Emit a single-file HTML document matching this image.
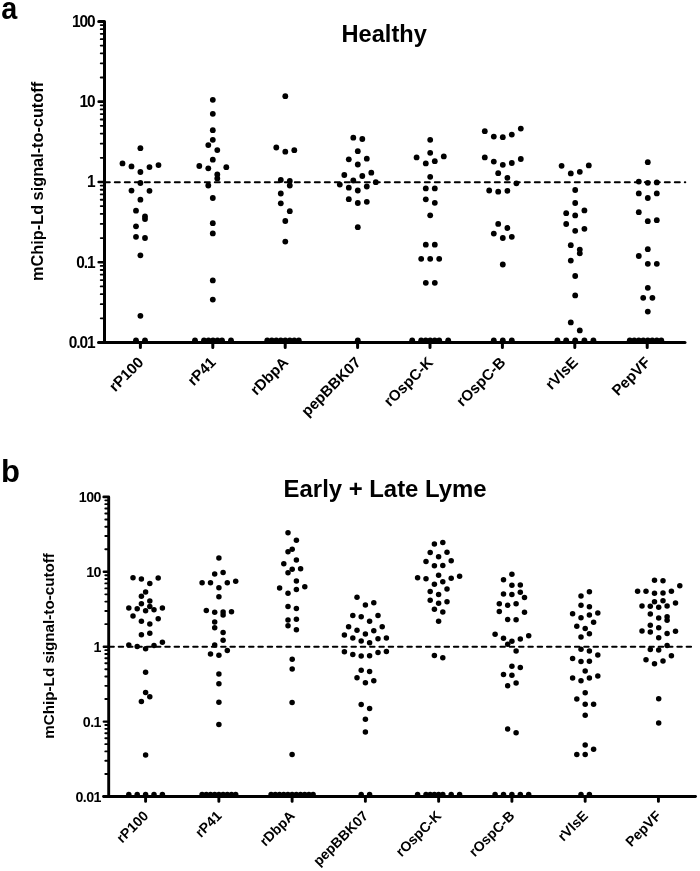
<!DOCTYPE html>
<html><head><meta charset="utf-8"><style>
html,body{margin:0;padding:0;background:#fff;}
svg{display:block;}
text{font-family:'Liberation Sans',Arial,sans-serif;font-weight:bold;fill:#000;}
</style></head><body>
<svg width="700" height="871" viewBox="0 0 700 871">
<rect width="700" height="871" fill="#fff"/>
<path d="M100.7 318.33H104.5M100.7 304.2H104.5M100.7 294.17H104.5M100.7 286.39H104.5M100.7 280.03H104.5M100.7 274.66H104.5M100.7 270H104.5M100.7 265.9H104.5M100.7 238.06H104.5M100.7 223.92H104.5M100.7 213.89H104.5M100.7 206.12H104.5M100.7 199.76H104.5M100.7 194.38H104.5M100.7 189.73H104.5M100.7 185.62H104.5M100.7 157.78H104.5M100.7 143.65H104.5M100.7 133.62H104.5M100.7 125.84H104.5M100.7 119.48H104.5M100.7 114.11H104.5M100.7 109.45H104.5M100.7 105.35H104.5M100.7 77.51H104.5M100.7 63.37H104.5M100.7 53.34H104.5M100.7 45.57H104.5M100.7 39.21H104.5M100.7 33.83H104.5M100.7 29.18H104.5M100.7 25.07H104.5" stroke="#000" stroke-width="1.8" stroke-linecap="round" fill="none"/>
<path d="M98.7 342.5H104.5M98.7 262.23H104.5M98.7 181.95H104.5M98.7 101.67H104.5" stroke="#000" stroke-width="2.6" stroke-linecap="round" fill="none"/>
<path d="M98.7 21.4H104.5V342.5" stroke="#000" stroke-width="3" stroke-linecap="round" stroke-linejoin="round" fill="none"/>
<path d="M98.6 342.5H685" stroke="#000" stroke-width="3" stroke-linecap="round" fill="none"/>
<text transform="translate(94.6 347.85) scale(0.95 1)" text-anchor="end" font-size="16.3" letter-spacing="-1.1">0.01</text>
<text transform="translate(94.6 267.58) scale(0.95 1)" text-anchor="end" font-size="16.3" letter-spacing="-1.1">0.1</text>
<text transform="translate(94.6 187.3) scale(0.95 1)" text-anchor="end" font-size="16.3" letter-spacing="-1.1">1</text>
<text transform="translate(94.6 107.02) scale(0.95 1)" text-anchor="end" font-size="16.3" letter-spacing="-1.1">10</text>
<text transform="translate(94.6 26.75) scale(0.95 1)" text-anchor="end" font-size="16.3" letter-spacing="-1.1">100</text>
<text x="144.4" y="363.3" text-anchor="end" font-size="15.1" transform="rotate(-45 144.4 363.3)">rP100</text>
<text x="216.8" y="363.3" text-anchor="end" font-size="15.1" transform="rotate(-45 216.8 363.3)">rP41</text>
<text x="289.2" y="363.3" text-anchor="end" font-size="15.1" transform="rotate(-45 289.2 363.3)">rDbpA</text>
<text x="361.6" y="363.3" text-anchor="end" font-size="15.1" transform="rotate(-45 361.6 363.3)">pepBBK07</text>
<text x="434" y="363.3" text-anchor="end" font-size="15.1" transform="rotate(-45 434 363.3)">rOspC-K</text>
<text x="506.4" y="363.3" text-anchor="end" font-size="15.1" transform="rotate(-45 506.4 363.3)">rOspC-B</text>
<text x="578.8" y="363.3" text-anchor="end" font-size="15.1" transform="rotate(-45 578.8 363.3)">rVlsE</text>
<text x="651.2" y="363.3" text-anchor="end" font-size="15.1" transform="rotate(-45 651.2 363.3)">PepVF</text>
<path d="M140.4 342.5V347.6M212.8 342.5V347.6M285.2 342.5V347.6M357.6 342.5V347.6M430 342.5V347.6M502.4 342.5V347.6M574.8 342.5V347.6M647.2 342.5V347.6" stroke="#000" stroke-width="3" stroke-linecap="round" fill="none"/>
<path d="M104.9 182.25H685.2" stroke="#000" stroke-width="2.2" stroke-dasharray="4.8 5.2" stroke-linecap="round" fill="none"/>
<text x="43.1" y="181.4" text-anchor="middle" font-size="16.3" transform="rotate(-90 43.1 181.4)">mChip-Ld signal-to-cutoff</text>
<text x="384.2" y="41.6" text-anchor="middle" font-size="23.6">Healthy</text>
<text transform="translate(1.2 19) scale(0.9 1)" font-size="32">a</text>
<g>
<circle cx="140.4" cy="148.2" r="2.9"/>
<circle cx="122.5" cy="163.4" r="2.9"/>
<circle cx="131.5" cy="166.4" r="2.9"/>
<circle cx="149.5" cy="167.1" r="2.9"/>
<circle cx="158.5" cy="165.1" r="2.9"/>
<circle cx="140.4" cy="172" r="2.9"/>
<circle cx="140.4" cy="183" r="2.9"/>
<circle cx="131.5" cy="190.6" r="2.9"/>
<circle cx="149.5" cy="190.8" r="2.9"/>
<circle cx="140.4" cy="199.7" r="2.9"/>
<circle cx="136" cy="210.7" r="2.9"/>
<circle cx="145" cy="216.5" r="2.9"/>
<circle cx="145" cy="219.1" r="2.9"/>
<circle cx="136" cy="226.3" r="2.9"/>
<circle cx="136" cy="236.8" r="2.9"/>
<circle cx="145" cy="238" r="2.9"/>
<circle cx="140.4" cy="255.3" r="2.9"/>
<circle cx="140.4" cy="315.8" r="2.9"/>
<circle cx="136" cy="340.3" r="2.9"/>
<circle cx="145" cy="340.3" r="2.9"/>
<circle cx="212.8" cy="99.8" r="2.9"/>
<circle cx="212.8" cy="113.8" r="2.9"/>
<circle cx="212.8" cy="130.2" r="2.9"/>
<circle cx="212.8" cy="139.8" r="2.9"/>
<circle cx="208.3" cy="145.1" r="2.9"/>
<circle cx="217.3" cy="150.1" r="2.9"/>
<circle cx="212.8" cy="159.7" r="2.9"/>
<circle cx="199.3" cy="166" r="2.9"/>
<circle cx="208.3" cy="168.3" r="2.9"/>
<circle cx="226.3" cy="167.2" r="2.9"/>
<circle cx="217.3" cy="174.5" r="2.9"/>
<circle cx="217.3" cy="178.4" r="2.9"/>
<circle cx="208.3" cy="185.5" r="2.9"/>
<circle cx="212.8" cy="198" r="2.9"/>
<circle cx="212.8" cy="223.2" r="2.9"/>
<circle cx="212.8" cy="233.4" r="2.9"/>
<circle cx="212.8" cy="280.4" r="2.9"/>
<circle cx="212.8" cy="299.6" r="2.9"/>
<circle cx="195" cy="340.3" r="2.9"/>
<circle cx="204" cy="340.3" r="2.9"/>
<circle cx="208.5" cy="340.3" r="2.9"/>
<circle cx="213" cy="340.3" r="2.9"/>
<circle cx="217.5" cy="340.3" r="2.9"/>
<circle cx="222" cy="340.3" r="2.9"/>
<circle cx="231" cy="340.3" r="2.9"/>
<circle cx="285.3" cy="96.2" r="2.9"/>
<circle cx="276.3" cy="147.5" r="2.9"/>
<circle cx="285.3" cy="151.7" r="2.9"/>
<circle cx="294.3" cy="150.2" r="2.9"/>
<circle cx="280.8" cy="180" r="2.9"/>
<circle cx="289.8" cy="181" r="2.9"/>
<circle cx="289.8" cy="185.5" r="2.9"/>
<circle cx="280.8" cy="193.5" r="2.9"/>
<circle cx="280.8" cy="203.3" r="2.9"/>
<circle cx="289.8" cy="211.2" r="2.9"/>
<circle cx="285.3" cy="221" r="2.9"/>
<circle cx="285.3" cy="241.6" r="2.9"/>
<circle cx="267.3" cy="340.3" r="2.9"/>
<circle cx="271.8" cy="340.3" r="2.9"/>
<circle cx="276.3" cy="340.3" r="2.9"/>
<circle cx="280.8" cy="340.3" r="2.9"/>
<circle cx="285.3" cy="340.3" r="2.9"/>
<circle cx="289.8" cy="340.3" r="2.9"/>
<circle cx="294.3" cy="340.3" r="2.9"/>
<circle cx="298.8" cy="340.3" r="2.9"/>
<circle cx="353.3" cy="137.7" r="2.9"/>
<circle cx="362.3" cy="139" r="2.9"/>
<circle cx="357.8" cy="151.2" r="2.9"/>
<circle cx="348.8" cy="159.3" r="2.9"/>
<circle cx="366.8" cy="158.7" r="2.9"/>
<circle cx="357.8" cy="164.5" r="2.9"/>
<circle cx="344.3" cy="175" r="2.9"/>
<circle cx="362.3" cy="176" r="2.9"/>
<circle cx="371.3" cy="172.7" r="2.9"/>
<circle cx="353.3" cy="180.5" r="2.9"/>
<circle cx="339.8" cy="184.6" r="2.9"/>
<circle cx="375.8" cy="182.2" r="2.9"/>
<circle cx="348.8" cy="187.7" r="2.9"/>
<circle cx="366.8" cy="186.5" r="2.9"/>
<circle cx="357.8" cy="190.5" r="2.9"/>
<circle cx="348.8" cy="199.2" r="2.9"/>
<circle cx="357.8" cy="203" r="2.9"/>
<circle cx="366.8" cy="201.8" r="2.9"/>
<circle cx="357.8" cy="227.2" r="2.9"/>
<circle cx="357.8" cy="340.3" r="2.9"/>
<circle cx="430.2" cy="139.8" r="2.9"/>
<circle cx="430.2" cy="152.8" r="2.9"/>
<circle cx="416.6" cy="157.4" r="2.9"/>
<circle cx="443.8" cy="156.4" r="2.9"/>
<circle cx="425.8" cy="163.4" r="2.9"/>
<circle cx="434.8" cy="161.2" r="2.9"/>
<circle cx="430.2" cy="176.8" r="2.9"/>
<circle cx="425.8" cy="188.4" r="2.9"/>
<circle cx="434.8" cy="188.4" r="2.9"/>
<circle cx="425.8" cy="199.3" r="2.9"/>
<circle cx="434.8" cy="202.8" r="2.9"/>
<circle cx="430.2" cy="215.3" r="2.9"/>
<circle cx="425.8" cy="244.7" r="2.9"/>
<circle cx="434.8" cy="244.7" r="2.9"/>
<circle cx="421.2" cy="258.8" r="2.9"/>
<circle cx="430.2" cy="258.8" r="2.9"/>
<circle cx="439.2" cy="258.8" r="2.9"/>
<circle cx="425.8" cy="282.8" r="2.9"/>
<circle cx="434.8" cy="282.8" r="2.9"/>
<circle cx="412.2" cy="340.3" r="2.9"/>
<circle cx="421.2" cy="340.3" r="2.9"/>
<circle cx="425.7" cy="340.3" r="2.9"/>
<circle cx="430.2" cy="340.3" r="2.9"/>
<circle cx="434.7" cy="340.3" r="2.9"/>
<circle cx="439.2" cy="340.3" r="2.9"/>
<circle cx="448.2" cy="340.3" r="2.9"/>
<circle cx="484.8" cy="131.2" r="2.9"/>
<circle cx="493.8" cy="136.6" r="2.9"/>
<circle cx="502.8" cy="137.2" r="2.9"/>
<circle cx="511.8" cy="134.6" r="2.9"/>
<circle cx="520.8" cy="128.6" r="2.9"/>
<circle cx="484.8" cy="157.4" r="2.9"/>
<circle cx="493.8" cy="161.6" r="2.9"/>
<circle cx="502.8" cy="164.8" r="2.9"/>
<circle cx="511.8" cy="163" r="2.9"/>
<circle cx="520.8" cy="159" r="2.9"/>
<circle cx="498.2" cy="173.2" r="2.9"/>
<circle cx="507.4" cy="177.8" r="2.9"/>
<circle cx="516.4" cy="183.3" r="2.9"/>
<circle cx="489.2" cy="190.5" r="2.9"/>
<circle cx="498.2" cy="191.7" r="2.9"/>
<circle cx="507.4" cy="190.8" r="2.9"/>
<circle cx="498.2" cy="223.9" r="2.9"/>
<circle cx="507.4" cy="228" r="2.9"/>
<circle cx="493.8" cy="233.6" r="2.9"/>
<circle cx="502.8" cy="238" r="2.9"/>
<circle cx="511.8" cy="236.8" r="2.9"/>
<circle cx="502.8" cy="264.5" r="2.9"/>
<circle cx="493.8" cy="340.3" r="2.9"/>
<circle cx="502.8" cy="340.3" r="2.9"/>
<circle cx="511.8" cy="340.3" r="2.9"/>
<circle cx="561.6" cy="165.8" r="2.9"/>
<circle cx="570.8" cy="173.4" r="2.9"/>
<circle cx="579.8" cy="171.8" r="2.9"/>
<circle cx="588.8" cy="165.4" r="2.9"/>
<circle cx="575.2" cy="190" r="2.9"/>
<circle cx="575.2" cy="203" r="2.9"/>
<circle cx="566.2" cy="213.2" r="2.9"/>
<circle cx="575.2" cy="215.4" r="2.9"/>
<circle cx="584.4" cy="210.4" r="2.9"/>
<circle cx="566.2" cy="224" r="2.9"/>
<circle cx="575.2" cy="230.8" r="2.9"/>
<circle cx="584.4" cy="228.8" r="2.9"/>
<circle cx="570.8" cy="245.2" r="2.9"/>
<circle cx="579.8" cy="249.6" r="2.9"/>
<circle cx="579.8" cy="253.4" r="2.9"/>
<circle cx="570.8" cy="260.6" r="2.9"/>
<circle cx="575.2" cy="276" r="2.9"/>
<circle cx="575.2" cy="295.4" r="2.9"/>
<circle cx="570.8" cy="322.4" r="2.9"/>
<circle cx="579.8" cy="330.4" r="2.9"/>
<circle cx="557.4" cy="340.3" r="2.9"/>
<circle cx="566.2" cy="340.3" r="2.9"/>
<circle cx="575.2" cy="340.3" r="2.9"/>
<circle cx="584.4" cy="340.3" r="2.9"/>
<circle cx="593.4" cy="340.3" r="2.9"/>
<circle cx="647.8" cy="162.2" r="2.9"/>
<circle cx="638.8" cy="181.6" r="2.9"/>
<circle cx="647.8" cy="182.8" r="2.9"/>
<circle cx="656.8" cy="182.4" r="2.9"/>
<circle cx="638.8" cy="193.4" r="2.9"/>
<circle cx="647.8" cy="198" r="2.9"/>
<circle cx="656.8" cy="193.4" r="2.9"/>
<circle cx="638.8" cy="212.2" r="2.9"/>
<circle cx="647.8" cy="221.2" r="2.9"/>
<circle cx="656.8" cy="220.2" r="2.9"/>
<circle cx="647.8" cy="249.2" r="2.9"/>
<circle cx="638.8" cy="256" r="2.9"/>
<circle cx="647.8" cy="263.8" r="2.9"/>
<circle cx="656.8" cy="263.8" r="2.9"/>
<circle cx="647.8" cy="287.8" r="2.9"/>
<circle cx="643.2" cy="297.8" r="2.9"/>
<circle cx="652.4" cy="297.8" r="2.9"/>
<circle cx="647.8" cy="311.6" r="2.9"/>
<circle cx="629.8" cy="340.3" r="2.9"/>
<circle cx="634.3" cy="340.3" r="2.9"/>
<circle cx="638.8" cy="340.3" r="2.9"/>
<circle cx="643.3" cy="340.3" r="2.9"/>
<circle cx="647.8" cy="340.3" r="2.9"/>
<circle cx="652.3" cy="340.3" r="2.9"/>
<circle cx="656.8" cy="340.3" r="2.9"/>
<circle cx="661.3" cy="340.3" r="2.9"/>
</g>
<path d="M105.3 773.95H108.7M105.3 760.76H108.7M105.3 751.41H108.7M105.3 744.15H108.7M105.3 738.22H108.7M105.3 733.2H108.7M105.3 728.86H108.7M105.3 725.03H108.7M105.3 699.05H108.7M105.3 685.86H108.7M105.3 676.51H108.7M105.3 669.25H108.7M105.3 663.32H108.7M105.3 658.3H108.7M105.3 653.96H108.7M105.3 650.13H108.7M105.3 624.15H108.7M105.3 610.96H108.7M105.3 601.61H108.7M105.3 594.35H108.7M105.3 588.42H108.7M105.3 583.4H108.7M105.3 579.06H108.7M105.3 575.23H108.7M105.3 549.25H108.7M105.3 536.06H108.7M105.3 526.71H108.7M105.3 519.45H108.7M105.3 513.52H108.7M105.3 508.5H108.7M105.3 504.16H108.7M105.3 500.33H108.7" stroke="#000" stroke-width="1.9" stroke-linecap="round" fill="none"/>
<path d="M103.8 796.5H108.7M103.8 721.6H108.7M103.8 646.7H108.7M103.8 571.8H108.7" stroke="#000" stroke-width="2.4" stroke-linecap="round" fill="none"/>
<path d="M103.8 496.9H108.7V796.5" stroke="#000" stroke-width="2.9" stroke-linecap="round" stroke-linejoin="round" fill="none"/>
<path d="M103.6 796.5H695.5" stroke="#000" stroke-width="2.9" stroke-linecap="round" fill="none"/>
<text transform="translate(100.9 801.7) scale(0.95 1)" text-anchor="end" font-size="15.0" letter-spacing="-0.6">0.01</text>
<text transform="translate(100.9 726.8) scale(0.95 1)" text-anchor="end" font-size="15.0" letter-spacing="-0.6">0.1</text>
<text transform="translate(100.9 651.9) scale(0.95 1)" text-anchor="end" font-size="15.0" letter-spacing="-0.6">1</text>
<text transform="translate(100.9 577) scale(0.95 1)" text-anchor="end" font-size="15.0" letter-spacing="-0.6">10</text>
<text transform="translate(100.9 502.1) scale(0.95 1)" text-anchor="end" font-size="15.0" letter-spacing="-0.6">100</text>
<text x="149.2" y="816.7" text-anchor="end" font-size="14" transform="rotate(-45 149.2 816.7)">rP100</text>
<text x="222.46" y="816.7" text-anchor="end" font-size="14" transform="rotate(-45 222.46 816.7)">rP41</text>
<text x="295.72" y="816.7" text-anchor="end" font-size="14" transform="rotate(-45 295.72 816.7)">rDbpA</text>
<text x="368.98" y="816.7" text-anchor="end" font-size="14" transform="rotate(-45 368.98 816.7)">pepBBK07</text>
<text x="442.24" y="816.7" text-anchor="end" font-size="14" transform="rotate(-45 442.24 816.7)">rOspC-K</text>
<text x="515.5" y="816.7" text-anchor="end" font-size="14" transform="rotate(-45 515.5 816.7)">rOspC-B</text>
<text x="588.76" y="816.7" text-anchor="end" font-size="14" transform="rotate(-45 588.76 816.7)">rVlsE</text>
<text x="662.02" y="816.7" text-anchor="end" font-size="14" transform="rotate(-45 662.02 816.7)">PepVF</text>
<path d="M145.6 796.5V801.4M218.86 796.5V801.4M292.12 796.5V801.4M365.38 796.5V801.4M438.64 796.5V801.4M511.9 796.5V801.4M585.16 796.5V801.4M658.42 796.5V801.4" stroke="#000" stroke-width="2.9" stroke-linecap="round" fill="none"/>
<path d="M109.45 646.7H691.7" stroke="#000" stroke-width="2.1" stroke-dasharray="4.4 4.91" stroke-linecap="round" fill="none"/>
<text x="54.1" y="645.9" text-anchor="middle" font-size="15.2" transform="rotate(-90 54.1 645.9)">mChip-Ld signal-to-cutoff</text>
<text x="385.1" y="497" text-anchor="middle" font-size="23.9">Early + Late Lyme</text>
<text transform="translate(1.1 482) scale(1 1)" font-size="31">b</text>
<g>
<circle cx="133" cy="577.8" r="2.75"/>
<circle cx="141.4" cy="579" r="2.75"/>
<circle cx="149.8" cy="583.5" r="2.75"/>
<circle cx="158.2" cy="578" r="2.75"/>
<circle cx="145.6" cy="592" r="2.75"/>
<circle cx="141.4" cy="596.2" r="2.75"/>
<circle cx="149.8" cy="601" r="2.75"/>
<circle cx="141.4" cy="603.7" r="2.75"/>
<circle cx="128.8" cy="608" r="2.75"/>
<circle cx="137.2" cy="608.8" r="2.75"/>
<circle cx="149.8" cy="606.5" r="2.75"/>
<circle cx="145.6" cy="610.8" r="2.75"/>
<circle cx="154" cy="609.7" r="2.75"/>
<circle cx="162.4" cy="608.1" r="2.75"/>
<circle cx="133" cy="616" r="2.75"/>
<circle cx="158.2" cy="618.7" r="2.75"/>
<circle cx="141.4" cy="621.3" r="2.75"/>
<circle cx="149.8" cy="624.1" r="2.75"/>
<circle cx="141.4" cy="634.7" r="2.75"/>
<circle cx="149.8" cy="633.2" r="2.75"/>
<circle cx="162.4" cy="642.2" r="2.75"/>
<circle cx="128.8" cy="645" r="2.75"/>
<circle cx="137.2" cy="646.5" r="2.75"/>
<circle cx="145.6" cy="648.7" r="2.75"/>
<circle cx="154" cy="645.5" r="2.75"/>
<circle cx="145.6" cy="672.2" r="2.75"/>
<circle cx="145.6" cy="692.6" r="2.75"/>
<circle cx="149.8" cy="696.8" r="2.75"/>
<circle cx="141.4" cy="701.5" r="2.75"/>
<circle cx="145.6" cy="755" r="2.75"/>
<circle cx="128.8" cy="794.6" r="2.75"/>
<circle cx="137.2" cy="794.6" r="2.75"/>
<circle cx="145.6" cy="794.6" r="2.75"/>
<circle cx="154" cy="794.6" r="2.75"/>
<circle cx="162.4" cy="794.6" r="2.75"/>
<circle cx="218.9" cy="558" r="2.75"/>
<circle cx="214.7" cy="574" r="2.75"/>
<circle cx="223.1" cy="572.6" r="2.75"/>
<circle cx="202.1" cy="582.8" r="2.75"/>
<circle cx="210.5" cy="582.8" r="2.75"/>
<circle cx="227.3" cy="582.7" r="2.75"/>
<circle cx="235.7" cy="581.3" r="2.75"/>
<circle cx="218.9" cy="587.7" r="2.75"/>
<circle cx="218.9" cy="596.7" r="2.75"/>
<circle cx="206.3" cy="610.5" r="2.75"/>
<circle cx="214.7" cy="612.3" r="2.75"/>
<circle cx="223.1" cy="612" r="2.75"/>
<circle cx="223.1" cy="615" r="2.75"/>
<circle cx="231.5" cy="611.8" r="2.75"/>
<circle cx="214.7" cy="621.9" r="2.75"/>
<circle cx="214.7" cy="627.7" r="2.75"/>
<circle cx="223.1" cy="632.5" r="2.75"/>
<circle cx="223.1" cy="640.2" r="2.75"/>
<circle cx="214.7" cy="645" r="2.75"/>
<circle cx="227.3" cy="650.6" r="2.75"/>
<circle cx="210.5" cy="654" r="2.75"/>
<circle cx="218.9" cy="655.2" r="2.75"/>
<circle cx="218.9" cy="674" r="2.75"/>
<circle cx="218.9" cy="683.8" r="2.75"/>
<circle cx="218.9" cy="702.2" r="2.75"/>
<circle cx="218.9" cy="724.6" r="2.75"/>
<circle cx="202.1" cy="794.6" r="2.75"/>
<circle cx="206.3" cy="794.6" r="2.75"/>
<circle cx="210.5" cy="794.6" r="2.75"/>
<circle cx="214.7" cy="794.6" r="2.75"/>
<circle cx="218.9" cy="794.6" r="2.75"/>
<circle cx="223.1" cy="794.6" r="2.75"/>
<circle cx="227.3" cy="794.6" r="2.75"/>
<circle cx="231.5" cy="794.6" r="2.75"/>
<circle cx="235.7" cy="794.6" r="2.75"/>
<circle cx="288" cy="532.8" r="2.75"/>
<circle cx="296.4" cy="540.2" r="2.75"/>
<circle cx="292.2" cy="549.2" r="2.75"/>
<circle cx="288" cy="551.8" r="2.75"/>
<circle cx="296.4" cy="560" r="2.75"/>
<circle cx="283.8" cy="563.8" r="2.75"/>
<circle cx="292.2" cy="569.3" r="2.75"/>
<circle cx="300.6" cy="568.7" r="2.75"/>
<circle cx="288" cy="572.8" r="2.75"/>
<circle cx="296.4" cy="581" r="2.75"/>
<circle cx="279.6" cy="588" r="2.75"/>
<circle cx="296.4" cy="589.5" r="2.75"/>
<circle cx="304.8" cy="586.7" r="2.75"/>
<circle cx="288" cy="593.3" r="2.75"/>
<circle cx="288" cy="606.4" r="2.75"/>
<circle cx="296.4" cy="608.6" r="2.75"/>
<circle cx="288" cy="620" r="2.75"/>
<circle cx="296.4" cy="619.2" r="2.75"/>
<circle cx="288" cy="625.7" r="2.75"/>
<circle cx="296.4" cy="629.7" r="2.75"/>
<circle cx="292.2" cy="659.2" r="2.75"/>
<circle cx="292.2" cy="669" r="2.75"/>
<circle cx="292.1" cy="702.4" r="2.75"/>
<circle cx="292.1" cy="754.6" r="2.75"/>
<circle cx="271.1" cy="794.6" r="2.75"/>
<circle cx="275.3" cy="794.6" r="2.75"/>
<circle cx="279.5" cy="794.6" r="2.75"/>
<circle cx="283.7" cy="794.6" r="2.75"/>
<circle cx="287.9" cy="794.6" r="2.75"/>
<circle cx="292.1" cy="794.6" r="2.75"/>
<circle cx="296.3" cy="794.6" r="2.75"/>
<circle cx="300.5" cy="794.6" r="2.75"/>
<circle cx="304.7" cy="794.6" r="2.75"/>
<circle cx="308.9" cy="794.6" r="2.75"/>
<circle cx="313.1" cy="794.6" r="2.75"/>
<circle cx="357" cy="597.2" r="2.75"/>
<circle cx="365.4" cy="605" r="2.75"/>
<circle cx="373.8" cy="602.8" r="2.75"/>
<circle cx="352.8" cy="615.5" r="2.75"/>
<circle cx="361.2" cy="616.7" r="2.75"/>
<circle cx="369.6" cy="621.2" r="2.75"/>
<circle cx="378" cy="615.5" r="2.75"/>
<circle cx="348.6" cy="626.7" r="2.75"/>
<circle cx="357" cy="630.3" r="2.75"/>
<circle cx="365.4" cy="634" r="2.75"/>
<circle cx="373.8" cy="630.8" r="2.75"/>
<circle cx="382.2" cy="626.8" r="2.75"/>
<circle cx="344.4" cy="635" r="2.75"/>
<circle cx="352.8" cy="638" r="2.75"/>
<circle cx="361.2" cy="641" r="2.75"/>
<circle cx="369.6" cy="642.8" r="2.75"/>
<circle cx="378" cy="638.8" r="2.75"/>
<circle cx="386.4" cy="638" r="2.75"/>
<circle cx="344.4" cy="651.7" r="2.75"/>
<circle cx="352.8" cy="654.5" r="2.75"/>
<circle cx="361.2" cy="656" r="2.75"/>
<circle cx="369.6" cy="655.7" r="2.75"/>
<circle cx="378" cy="652.5" r="2.75"/>
<circle cx="386.4" cy="651.5" r="2.75"/>
<circle cx="361.2" cy="670.2" r="2.75"/>
<circle cx="369.6" cy="671.4" r="2.75"/>
<circle cx="357" cy="677.8" r="2.75"/>
<circle cx="365.4" cy="682.8" r="2.75"/>
<circle cx="373.8" cy="680.8" r="2.75"/>
<circle cx="361.2" cy="704.5" r="2.75"/>
<circle cx="369.6" cy="708.5" r="2.75"/>
<circle cx="365.4" cy="719.3" r="2.75"/>
<circle cx="365.4" cy="731.9" r="2.75"/>
<circle cx="361.2" cy="794.6" r="2.75"/>
<circle cx="369.6" cy="794.6" r="2.75"/>
<circle cx="434.4" cy="544" r="2.75"/>
<circle cx="442.8" cy="542.5" r="2.75"/>
<circle cx="430.2" cy="552.5" r="2.75"/>
<circle cx="447" cy="552.2" r="2.75"/>
<circle cx="438.6" cy="556.8" r="2.75"/>
<circle cx="426" cy="561.5" r="2.75"/>
<circle cx="451.2" cy="560.8" r="2.75"/>
<circle cx="434.4" cy="565.8" r="2.75"/>
<circle cx="442.8" cy="565.5" r="2.75"/>
<circle cx="438.6" cy="575.3" r="2.75"/>
<circle cx="417.6" cy="577.7" r="2.75"/>
<circle cx="426" cy="578.8" r="2.75"/>
<circle cx="451.2" cy="578.3" r="2.75"/>
<circle cx="459.6" cy="576.2" r="2.75"/>
<circle cx="442.8" cy="581.7" r="2.75"/>
<circle cx="434.4" cy="584.2" r="2.75"/>
<circle cx="430.2" cy="591.5" r="2.75"/>
<circle cx="447" cy="589" r="2.75"/>
<circle cx="438.6" cy="594.5" r="2.75"/>
<circle cx="430.2" cy="600.3" r="2.75"/>
<circle cx="447" cy="601.7" r="2.75"/>
<circle cx="438.6" cy="603.3" r="2.75"/>
<circle cx="434.4" cy="609.3" r="2.75"/>
<circle cx="442.8" cy="612" r="2.75"/>
<circle cx="438.6" cy="621.3" r="2.75"/>
<circle cx="434.4" cy="655.5" r="2.75"/>
<circle cx="442.8" cy="657.8" r="2.75"/>
<circle cx="417.6" cy="794.6" r="2.75"/>
<circle cx="426" cy="794.6" r="2.75"/>
<circle cx="430.2" cy="794.6" r="2.75"/>
<circle cx="434.4" cy="794.6" r="2.75"/>
<circle cx="438.6" cy="794.6" r="2.75"/>
<circle cx="442.8" cy="794.6" r="2.75"/>
<circle cx="451.2" cy="794.6" r="2.75"/>
<circle cx="459.6" cy="794.6" r="2.75"/>
<circle cx="511.9" cy="574.2" r="2.75"/>
<circle cx="503.5" cy="579.8" r="2.75"/>
<circle cx="511.9" cy="585.3" r="2.75"/>
<circle cx="520.3" cy="585" r="2.75"/>
<circle cx="503.5" cy="594" r="2.75"/>
<circle cx="511.9" cy="594.5" r="2.75"/>
<circle cx="520.3" cy="592.3" r="2.75"/>
<circle cx="524.5" cy="597.5" r="2.75"/>
<circle cx="499.3" cy="603.8" r="2.75"/>
<circle cx="507.7" cy="605.3" r="2.75"/>
<circle cx="516.1" cy="603.8" r="2.75"/>
<circle cx="499.3" cy="611.5" r="2.75"/>
<circle cx="524.5" cy="612.2" r="2.75"/>
<circle cx="507.7" cy="619.5" r="2.75"/>
<circle cx="516.1" cy="619.7" r="2.75"/>
<circle cx="495.1" cy="634.2" r="2.75"/>
<circle cx="503.5" cy="638.3" r="2.75"/>
<circle cx="511.9" cy="641.3" r="2.75"/>
<circle cx="520.3" cy="639" r="2.75"/>
<circle cx="528.7" cy="635.7" r="2.75"/>
<circle cx="507.7" cy="644.3" r="2.75"/>
<circle cx="516.1" cy="651" r="2.75"/>
<circle cx="511.9" cy="666.3" r="2.75"/>
<circle cx="520.3" cy="667.5" r="2.75"/>
<circle cx="503.5" cy="674.5" r="2.75"/>
<circle cx="511.9" cy="675.3" r="2.75"/>
<circle cx="516.1" cy="683" r="2.75"/>
<circle cx="507.7" cy="685.8" r="2.75"/>
<circle cx="507.7" cy="729" r="2.75"/>
<circle cx="516.1" cy="732.8" r="2.75"/>
<circle cx="495.1" cy="794.6" r="2.75"/>
<circle cx="503.5" cy="794.6" r="2.75"/>
<circle cx="511.9" cy="794.6" r="2.75"/>
<circle cx="520.3" cy="794.6" r="2.75"/>
<circle cx="528.7" cy="794.6" r="2.75"/>
<circle cx="589.4" cy="591.8" r="2.75"/>
<circle cx="581" cy="596" r="2.75"/>
<circle cx="581" cy="605.3" r="2.75"/>
<circle cx="589.4" cy="606.8" r="2.75"/>
<circle cx="572.6" cy="613.8" r="2.75"/>
<circle cx="581" cy="617.7" r="2.75"/>
<circle cx="589.4" cy="615" r="2.75"/>
<circle cx="597.8" cy="613" r="2.75"/>
<circle cx="593.6" cy="622.2" r="2.75"/>
<circle cx="576.8" cy="626.2" r="2.75"/>
<circle cx="585.2" cy="628.5" r="2.75"/>
<circle cx="589.4" cy="633.7" r="2.75"/>
<circle cx="581" cy="637" r="2.75"/>
<circle cx="581" cy="649.2" r="2.75"/>
<circle cx="589.4" cy="651" r="2.75"/>
<circle cx="597.8" cy="655" r="2.75"/>
<circle cx="572.6" cy="658.6" r="2.75"/>
<circle cx="581" cy="661.5" r="2.75"/>
<circle cx="589.4" cy="661.2" r="2.75"/>
<circle cx="585.2" cy="671" r="2.75"/>
<circle cx="572.6" cy="678" r="2.75"/>
<circle cx="581" cy="680.8" r="2.75"/>
<circle cx="589.4" cy="678" r="2.75"/>
<circle cx="597.8" cy="676" r="2.75"/>
<circle cx="585.2" cy="692.8" r="2.75"/>
<circle cx="576.8" cy="699" r="2.75"/>
<circle cx="585.2" cy="704.3" r="2.75"/>
<circle cx="593.6" cy="704.3" r="2.75"/>
<circle cx="585.2" cy="715.3" r="2.75"/>
<circle cx="585.2" cy="745" r="2.75"/>
<circle cx="593.6" cy="749.3" r="2.75"/>
<circle cx="576.8" cy="754.5" r="2.75"/>
<circle cx="585.2" cy="754.5" r="2.75"/>
<circle cx="581" cy="794.6" r="2.75"/>
<circle cx="589.4" cy="794.6" r="2.75"/>
<circle cx="654.5" cy="580.3" r="2.75"/>
<circle cx="663" cy="580.7" r="2.75"/>
<circle cx="679.8" cy="585.8" r="2.75"/>
<circle cx="637.6" cy="591.2" r="2.75"/>
<circle cx="646" cy="591.3" r="2.75"/>
<circle cx="654.5" cy="593.2" r="2.75"/>
<circle cx="663" cy="593" r="2.75"/>
<circle cx="671.4" cy="591.2" r="2.75"/>
<circle cx="654.5" cy="601.8" r="2.75"/>
<circle cx="663" cy="600.8" r="2.75"/>
<circle cx="675.5" cy="603" r="2.75"/>
<circle cx="642" cy="606" r="2.75"/>
<circle cx="650.3" cy="606.3" r="2.75"/>
<circle cx="658.7" cy="607.2" r="2.75"/>
<circle cx="667.1" cy="606" r="2.75"/>
<circle cx="650.3" cy="614" r="2.75"/>
<circle cx="658.7" cy="618" r="2.75"/>
<circle cx="667.1" cy="616.7" r="2.75"/>
<circle cx="667.1" cy="620.3" r="2.75"/>
<circle cx="650.3" cy="625.3" r="2.75"/>
<circle cx="658.7" cy="627.8" r="2.75"/>
<circle cx="642" cy="631" r="2.75"/>
<circle cx="650.3" cy="632" r="2.75"/>
<circle cx="667.1" cy="633.5" r="2.75"/>
<circle cx="675.5" cy="631.3" r="2.75"/>
<circle cx="658.7" cy="637.8" r="2.75"/>
<circle cx="667.1" cy="645.6" r="2.75"/>
<circle cx="650.3" cy="649.4" r="2.75"/>
<circle cx="658.7" cy="650" r="2.75"/>
<circle cx="671.4" cy="655.8" r="2.75"/>
<circle cx="646" cy="659.8" r="2.75"/>
<circle cx="654.5" cy="663.7" r="2.75"/>
<circle cx="663" cy="661" r="2.75"/>
<circle cx="658.7" cy="698.7" r="2.75"/>
<circle cx="658.7" cy="723" r="2.75"/>
</g>
</svg>
</body></html>
